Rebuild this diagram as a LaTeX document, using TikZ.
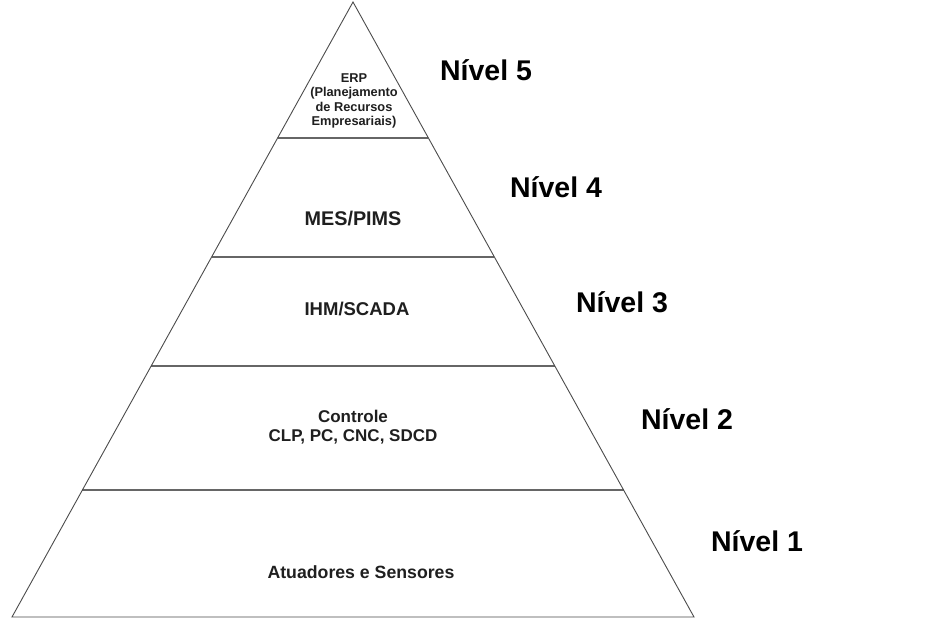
\documentclass[tikz,border=0pt]{standalone}
\usepackage{fontspec}
\setmainfont{Liberation Sans}
\begin{document}
\begin{tikzpicture}[x=1pt,y=-1pt,
  edge/.style={draw=black!70,line width=0.9pt},
  sep/.style={draw=black!60,line width=1.3pt},
  inner/.style={inner sep=0pt,text=black!88,font=\bfseries\fontsize{18}{19}\selectfont,align=center},
  small/.style={inner sep=0pt,text=black!88,font=\bfseries\fontsize{12.8}{14.2}\selectfont,align=center},
  lvl/.style={inner sep=0pt,text=black,font=\bfseries\fontsize{28.5}{30}\selectfont}]
\useasboundingbox[fill=white] (0,0) rectangle (939,624);
\coordinate (apex) at (353,2);
\coordinate (bl) at (12,617);
\coordinate (br) at (694,617);
% separators: half-width = 341*(y-2)/615
\coordinate (l4) at (277.6,138); \coordinate (r4) at (428.4,138);
\coordinate (l3) at (211.6,257); \coordinate (r3) at (494.4,257);
\coordinate (l2) at (151.1,366); \coordinate (r2) at (554.9,366);
\coordinate (l1) at (82.4,490); \coordinate (r1) at (623.6,490);
\draw[sep] (l4) -- (r4);
\draw[sep] (l3) -- (r3);
\draw[sep] (l2) -- (r2);
\draw[sep] (l1) -- (r1);
\draw[edge,line join=miter] (apex) -- (br) -- (bl) -- cycle;
\node[small] (erp) at (354,101) {ERP\\(Planejamento\\de Recursos\\Empresariais)};
\node[inner,font=\bfseries\fontsize{19.8}{20}\selectfont] (mes) at (353,219) {MES/PIMS};
\node[inner,font=\bfseries\fontsize{18.5}{20}\selectfont] (ihm) at (357,309) {IHM/SCADA};
\node[inner,font=\bfseries\fontsize{17}{19}\selectfont] (ctl) at (353,427) {Controle\\CLP, PC, CNC, SDCD};
\node[inner,font=\bfseries\fontsize{17.7}{19}\selectfont] (atu) at (361,572) {Atuadores e Sensores};
\node[lvl] (n5) at (486,70) {Nível 5};
\node[lvl] (n4) at (556,187) {Nível 4};
\node[lvl] (n3) at (622,302) {Nível 3};
\node[lvl] (n2) at (687,419) {Nível 2};
\node[lvl] (n1) at (757,541) {Nível 1};
\end{tikzpicture}
\end{document}
